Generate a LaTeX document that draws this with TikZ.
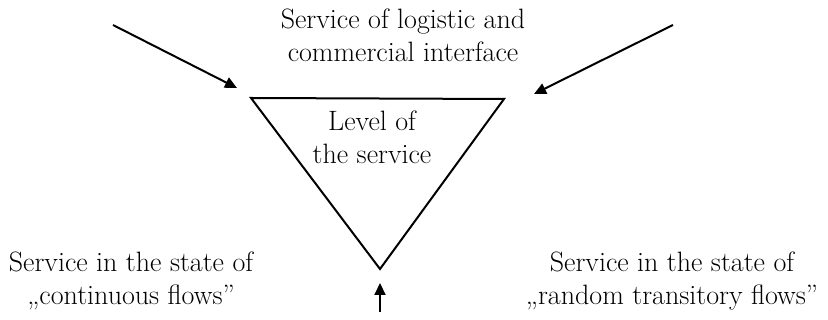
\documentclass[tikz,border=0pt]{standalone}
\usetikzlibrary{arrows.meta}
\begin{document}
\begin{tikzpicture}[x=1pt,y=1pt,
  label/.style={align=center,inner sep=0pt,anchor=base,
    font=\fontsize{28}{33}\selectfont},
  edge/.style={line width=2pt,line join=miter},
  push/.style={line width=2pt,-{Triangle[length=12pt,width=11pt]}}]
\useasboundingbox (0,0) rectangle (828,320);

% corners of the service triangle
\coordinate (tl) at (251,222);
\coordinate (tr) at (504,221);
\coordinate (bt) at (380,51);
\draw[edge] (tl) -- (tr) -- (bt) -- cycle;

% texts (anchored at the baseline of their last line)
\node[label] (top) at (403,258) {Service of logistic and\\commercial interface};
\node[label] (lvl) at (372,156) {Level of\\the service};
\node[label] (cont) at (131,15) {Service in the state of\\„continuous flows”};
\node[label] (rand) at (672,15) {Service in the state of\\„random transitory flows”};

% incoming influences
\coordinate (ls) at (113,295);
\coordinate (le) at (237,232);
\coordinate (rs) at (673,295);
\coordinate (re) at (534,226);
\coordinate (bs) at (380,8);
\coordinate (be) at (380,37);
\draw[push] (ls) -- (le);
\draw[push] (rs) -- (re);
\draw[push] (bs) -- (be);
\end{tikzpicture}
\end{document}
